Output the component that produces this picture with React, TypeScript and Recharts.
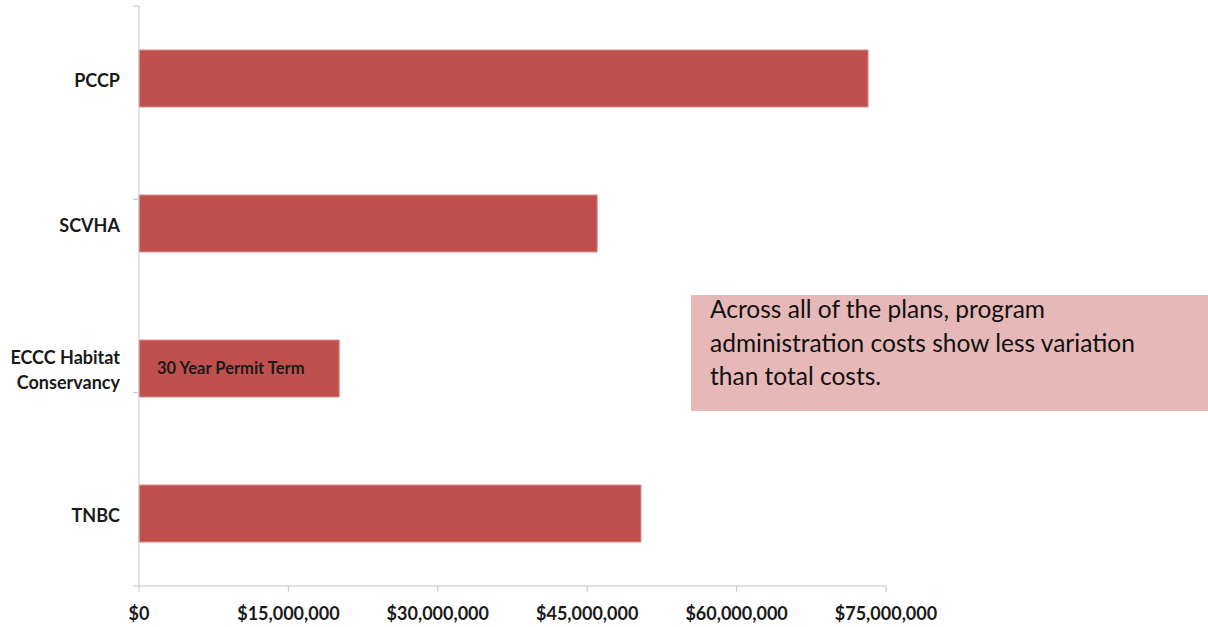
import { Bar, BarChart, LabelList, XAxis, YAxis } from "recharts";

const plans = ["PCCP", "SCVHA", "ECCC Habitat Conservancy", "TNBC"];
const adminCosts = [73200000, 46000000, 20100000, 50400000];
const barNotes = ["", "", "30 Year Permit Term", ""];
const xTicks = [0, 15000000, 30000000, 45000000, 60000000, 75000000];
const bandEdges = [0, 1, 2, 3, 4];
const noteLines = [
  "Across all of the plans, program",
  "administration costs show less variation",
  "than total costs.",
];

const data = plans.map((p, i) => ({ plan: p, cost: adminCosts[i], note: barNotes[i] }));

const FONT = "Lato, 'Open Sans', sans-serif";
const AXIS = "#c4c4c4";

const fmtMoney = (v: number) => "$" + v.toLocaleString("en-US");

function PlanTick({ x, y, payload }: any) {
  const words = String(payload.value);
  const lines = words === "ECCC Habitat Conservancy" ? ["ECCC Habitat", "Conservancy"] : [words];
  const start = -((lines.length - 1) * 25) / 2;
  return (
    <text x={x} y={y} textAnchor="end" fontFamily={FONT} fontWeight={700} fontSize={18} fill="#1a1a1a">
      {lines.map((l, i) => (
        <tspan key={i} x={x} dy={i === 0 ? start + 8 : 25}>
          {l}
        </tspan>
      ))}
    </text>
  );
}

export default function App() {
  return (
    <div style={{ position: "absolute", left: 0, top: 0, width: 1208, height: 627, background: "#fff" }}>
      <BarChart
        width={1208}
        height={627}
        data={data}
        layout="vertical"
        margin={{ top: 6, right: 322, bottom: 0, left: 0 }}
      >
        <XAxis
          type="number"
          domain={[0, 75000000]}
          ticks={xTicks}
          tickFormatter={fmtMoney}
          height={41}
          stroke={AXIS}
          tickSize={6}
          tickMargin={15}
          tick={{ fill: "#1a1a1a", fontSize: 18, fontWeight: 700, fontFamily: FONT }}
        />
        <YAxis
          yAxisId="cat"
          type="category"
          dataKey="plan"
          width={139}
          axisLine={false}
          tickLine={false}
          tickSize={0}
          tickMargin={19}
          tick={<PlanTick />}
        />
        <YAxis
          yAxisId="grid"
          type="number"
          domain={[0, 4]}
          ticks={bandEdges}
          width={10}
          mirror
          stroke={AXIS}
          tickLine={{ stroke: AXIS }}
          tickSize={-6}
          tickFormatter={() => ""}
        />
        <Bar
          yAxisId="cat"
          dataKey="cost"
          fill="#c0504d"
          stroke="#d98b89"
          strokeWidth={1}
          barSize={57}
          isAnimationActive={false}
        >
          <LabelList
            dataKey="note"
            position="insideLeft"
            offset={18}
            fill="#1a1a1a"
            fontFamily={FONT}
            fontWeight={700}
            fontSize={16.5}
          />
        </Bar>
      </BarChart>
      <div
        style={{
          position: "absolute",
          left: 691,
          top: 295,
          width: 517,
          height: 116,
          background: "#e6b8b7",
        }}
      >
        <div
          style={{
            position: "absolute",
            left: 19,
            top: -3,
            fontFamily: FONT,
            fontSize: 24.5,
            lineHeight: "33.5px",
            color: "#111",
            whiteSpace: "nowrap",
          }}
        >
          {noteLines.map((l, i) => (
            <div key={i}>{l}</div>
          ))}
        </div>
      </div>
    </div>
  );
}
